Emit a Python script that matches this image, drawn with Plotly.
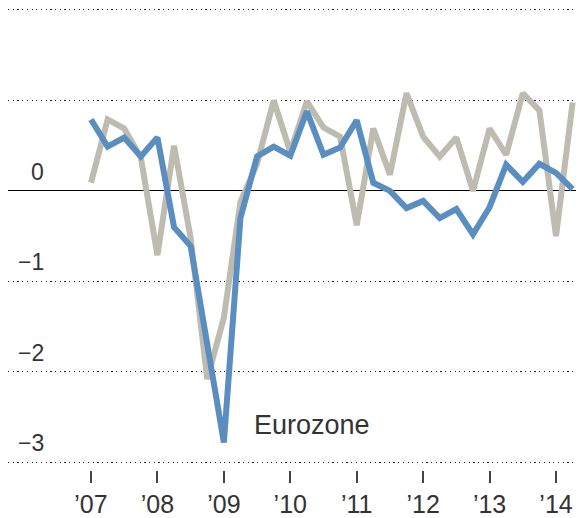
import plotly.graph_objects as go

# Quarterly data, 2007 Q1 - 2014 Q2
quarters = [f"{y}Q{q}" for y in range(2007, 2015) for q in range(1, 5)][:30]
eurozone = [0.79, 0.49, 0.59, 0.38,
            0.59, -0.40, -0.61, -1.69,
            -2.78, -0.30, 0.38, 0.49,
            0.39, 0.88, 0.40, 0.48,
            0.78, 0.09, 0.00, -0.19,
            -0.11, -0.30, -0.20, -0.48,
            -0.18, 0.29, 0.10, 0.30,
            0.20, 0.02]
other = [0.09, 0.79, 0.69, 0.37,
         -0.71, 0.50, -0.52, -2.08,
         -1.40, -0.12, 0.30, 1.00,
         0.43, 0.99, 0.70, 0.60,
         -0.38, 0.69, 0.18, 1.08,
         0.60, 0.38, 0.59, 0.00,
         0.69, 0.40, 1.08, 0.89,
         -0.50, 0.98]
year_ticks = [2007, 2008, 2009, 2010, 2011, 2012, 2013, 2014]
year_labels = ["\u201907", "\u201908", "\u201909", "\u201910", "\u201911", "\u201912", "\u201913", "\u201914"]
y_grid = [-3, -2, -1, 0, 1, 2]
y_labels = {0: "0", -1: "\u22121", -2: "\u22122", -3: "\u22123"}

def q_to_x(q):
    y, qq = q.split("Q")
    return int(y) + (int(qq) - 1) / 4

xs = [q_to_x(q) for q in quarters]

fig = go.Figure()
fig.add_trace(go.Scatter(x=xs, y=other, mode="lines",
                         line=dict(color="#bebcb0", width=6), hoverinfo="skip"))
fig.add_trace(go.Scatter(x=xs, y=eurozone, mode="lines",
                         line=dict(color="#5a8ec0", width=6), hoverinfo="skip"))

font = "Liberation Sans, Arial, sans-serif"
for v, t in y_labels.items():
    fig.add_annotation(text=t, xref="paper", x=38 / 576, xanchor="right",
                       yref="y", y=v, yanchor="bottom", yshift=4, showarrow=False,
                       font=dict(family=font, size=23, color="#333333"))

fig.add_annotation(text="Eurozone", xref="x", x=2009.43, xanchor="left",
                   yref="y", y=-2.59, yanchor="middle", showarrow=False,
                   font=dict(family=font, size=27, color="#333333"))

# page body has an 8px margin, so the figure is 8px smaller on each axis
fig.update_layout(
    width=576, height=510,
    margin=dict(l=0, r=0, t=0, b=46),
    plot_bgcolor="white", paper_bgcolor="white",
    showlegend=False,
    xaxis=dict(range=[2005.7506, 2014.4214], tickvals=year_ticks, ticktext=year_labels,
               ticks="outside", ticklen=12, tickwidth=1.5, tickcolor="#444444",
               showgrid=False, zeroline=False, showline=False,
               tickfont=dict(family=font, size=25, color="#333333"), fixedrange=True),
    yaxis=dict(range=[-3.0847, 2.022], tickvals=y_grid, showticklabels=False,
               showgrid=True, gridcolor="#222222", gridwidth=1.2, griddash="1.2px,3.5px",
               zeroline=True, zerolinecolor="#000000", zerolinewidth=1.3,
               showline=False, ticks="", fixedrange=True),
)

fig.write_html("out.html")
